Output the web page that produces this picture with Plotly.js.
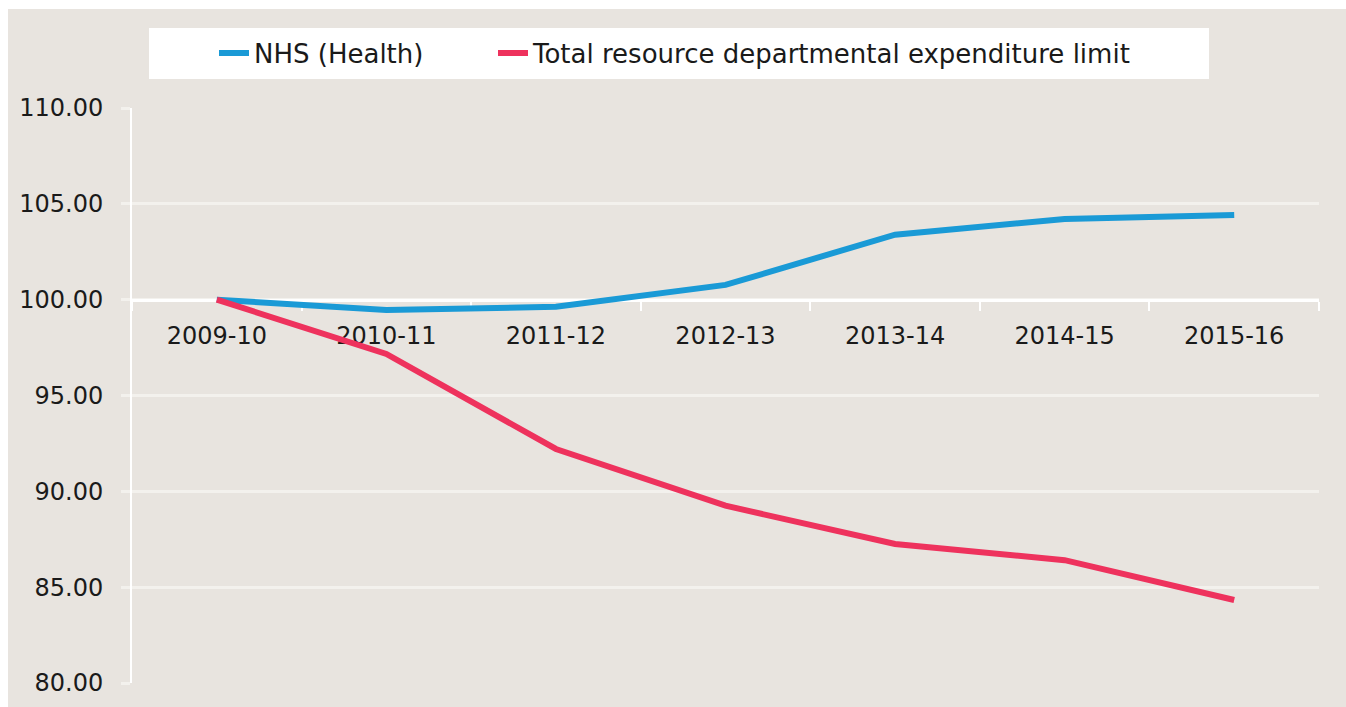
<!DOCTYPE html>
<html>
<head>
<meta charset="utf-8">
<script src="https://cdn.plot.ly/plotly-3.0.1.min.js"></script>
<style>html,body{margin:0;padding:0;background:#fff;}#chart{width:1346px;height:707px;}</style>
</head>
<body>
<div id="chart"></div>
<script>
var years = ["2009-10","2010-11","2011-12","2012-13","2013-14","2014-15","2015-16"];
var nhsValues = [100.00, 99.46, 99.63, 100.77, 103.39, 104.21, 104.42];
var delValues = [100.00, 97.17, 92.21, 89.25, 87.25, 86.41, 84.33];
var seriesNames = ["NHS (Health)", "Total resource departmental expenditure limit"];
var yTicks = [80, 85, 90, 95, 100, 105, 110];

var FONT = "DejaVu Sans, sans-serif";
var L = 132, R = 1319, T = 108, B = 683;
var W = R - L, H = B - T;
function px(x){ return (x - L) / W; }
function py(y){ return (B - y) / H; }

var traces = [
  {x: years, y: nhsValues, name: seriesNames[0], type: "scatter", mode: "lines",
   line: {color: "#1A9AD6", width: 6}, legend: "legend"},
  {x: years, y: delValues, name: seriesNames[1], type: "scatter", mode: "lines",
   line: {color: "#EE325D", width: 6}, legend: "legend2"}
];

var legendFont = {family: FONT, size: 26, color: "#1a1a1a"};

var layout = {
  width: 1346, height: 707,
  margin: {l: L, r: 1346 - R, t: T, b: 707 - B, pad: 0},
  paper_bgcolor: "#ffffff",
  plot_bgcolor: "rgba(0,0,0,0)",
  font: {family: FONT, size: 24, color: "#1a1a1a"},
  showlegend: true,
  legend: {
    orientation: "h", x: px(214), xanchor: "left", y: py(53), yanchor: "middle",
    bgcolor: "rgba(0,0,0,0)", font: legendFont
  },
  legend2: {
    orientation: "h", x: px(493), xanchor: "left", y: py(53), yanchor: "middle",
    bgcolor: "rgba(0,0,0,0)", font: legendFont
  },
  xaxis: {
    type: "category", range: [-0.5, 6.5],
    anchor: "free", position: (100 - 80) / 30,
    layer: "below traces",
    showline: true, linecolor: "#ffffff", linewidth: 3,
    ticks: "outside", tickson: "boundaries", ticklen: 9, tickwidth: 2, tickcolor: "#ffffff",
    showgrid: false, zeroline: false,
    tickfont: {family: FONT, size: 24, color: "#1a1a1a"},
    ticklabelstandoff: 14
  },
  yaxis: {
    range: [80, 110], tickvals: yTicks, tickformat: ".2f",
    layer: "below traces",
    showline: true, linecolor: "#ffffff", linewidth: 2,
    ticks: "outside", ticklen: 9, tickwidth: 3, tickcolor: "#F3F1ED",
    showgrid: true, gridcolor: "#F3F1ED", gridwidth: 3, zeroline: false,
    tickfont: {family: FONT, size: 24, color: "#1a1a1a"},
    ticklabelstandoff: 13
  },
  shapes: [
    {type: "rect", xref: "paper", yref: "paper", layer: "below",
     x0: px(8), x1: px(1350), y0: py(710), y1: py(9),
     fillcolor: "#E8E4DF", line: {width: 0}},
    {type: "rect", xref: "paper", yref: "paper", layer: "below",
     x0: px(149), x1: px(1209), y0: py(79), y1: py(28),
     fillcolor: "#ffffff", line: {width: 0}}
  ]
};

Plotly.newPlot("chart", traces, layout, {displayModeBar: false, staticPlot: true});
</script>
</body>
</html>
